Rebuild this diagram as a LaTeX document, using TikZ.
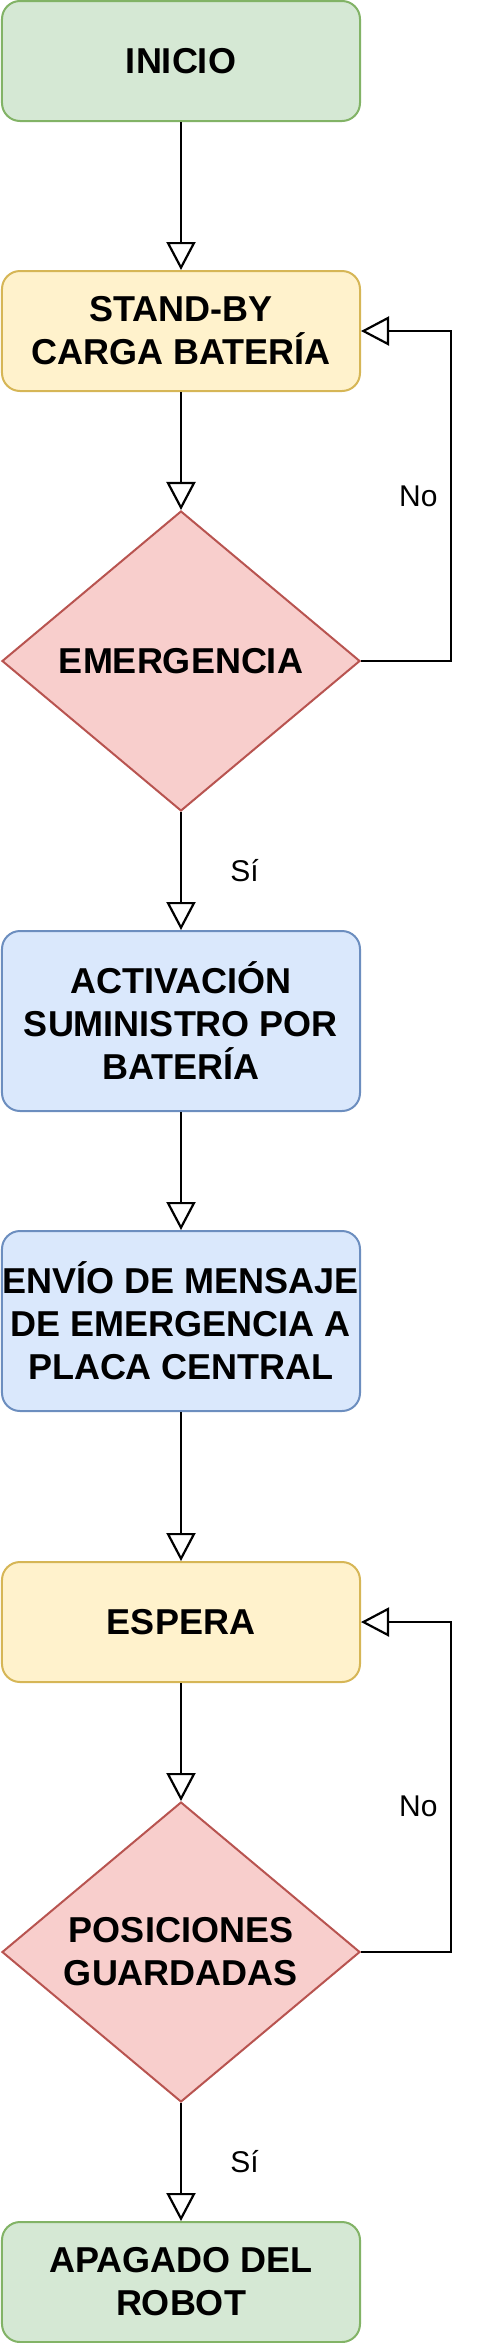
\documentclass[tikz,border=0pt]{standalone}
\usepackage{fontspec}
\setmainfont{Liberation Sans}
\usepackage{tikz}
\usetikzlibrary{arrows.meta, positioning, shapes.geometric}
\definecolor{greenfill}{HTML}{D5E8D4}
\definecolor{greenline}{HTML}{82B366}
\definecolor{yellowfill}{HTML}{FFF2CC}
\definecolor{yellowline}{HTML}{D6B656}
\definecolor{bluefill}{HTML}{DAE8FC}
\definecolor{blueline}{HTML}{6C8EBF}
\definecolor{redfill}{HTML}{F8CECC}
\definecolor{redline}{HTML}{B85450}
\tikzset{
  block/.style={
    draw,
    rectangle,
    rounded corners=18pt,
    line width=2pt,
    minimum height=120pt,
    minimum width=358pt,
    inner sep=0pt,
    align=center,
    font=\fontsize{36}{43}\selectfont\bfseries,
  },
  startblock/.style={
    block,
    draw=greenline,
    fill=greenfill
  },
  waitblock/.style={
    block,
    draw=yellowline,
    fill=yellowfill
  },
  taskblock/.style={
    block,
    minimum height=180pt,
    draw=blueline,
    fill=bluefill
  },
  decision/.style={
    diamond,
    aspect=1.2,
    draw=redline,
    fill=redfill,
    line width=2pt,
    minimum width=358pt,
    minimum height=300pt,
    inner sep=0pt,
    align=center,
    font=\fontsize{36}{43}\selectfont\bfseries,
  },
  answer/.style={
    font=\fontsize{30}{36}\selectfont
  },
  arrow/.style={
    -{Triangle[open, length=28pt, width=29pt]},
    line width=2.2pt
  }
}

\begin{document}
\begin{tikzpicture}[node distance=330pt]
\useasboundingbox (-181pt,61pt) rectangle (302pt,-2282pt);

% attesa emergenza
\node[startblock] (inicio) {INICIO};
\node[waitblock, below of=inicio, node distance=270pt] (standby) {STAND-BY\\CARGA BATERÍA};
\node[decision, below of=standby] (emerg) {EMERGENCIA};
\draw[arrow] (inicio) -- (standby);
\draw[arrow] (standby) -- (emerg);
\draw[arrow] (emerg.east) -- ++(90pt,0) |- node[answer, pos=0.25, left=9pt] {No} (standby.east);

% reazione
\node[taskblock, below of=emerg, node distance=360pt] (activ) {ACTIVACIÓN\\SUMINISTRO POR\\BATERÍA};
\node[taskblock, below of=activ, node distance=300pt] (envio) {ENVÍO DE MENSAJE\\DE EMERGENCIA A\\PLACA CENTRAL};
\draw[arrow] (emerg) -- node[answer, right=45pt] {Sí} (activ);
\draw[arrow] (activ) -- (envio);

% spegnimento
\node[waitblock, below of=envio, node distance=301pt] (espera) {ESPERA};
\node[decision, below of=espera] (pos) {POSICIONES\\GUARDADAS};
\node[startblock, below of=pos] (apagado) {APAGADO DEL\\ROBOT};
\draw[arrow] (envio) -- (espera);
\draw[arrow] (espera) -- (pos);
\draw[arrow] (pos.east) -- ++(90pt,0) |- node[answer, pos=0.22, left=9pt] {No} (espera.east);
\draw[arrow] (pos) -- node[answer, right=45pt] {Sí} (apagado);

\end{tikzpicture}
\end{document}
